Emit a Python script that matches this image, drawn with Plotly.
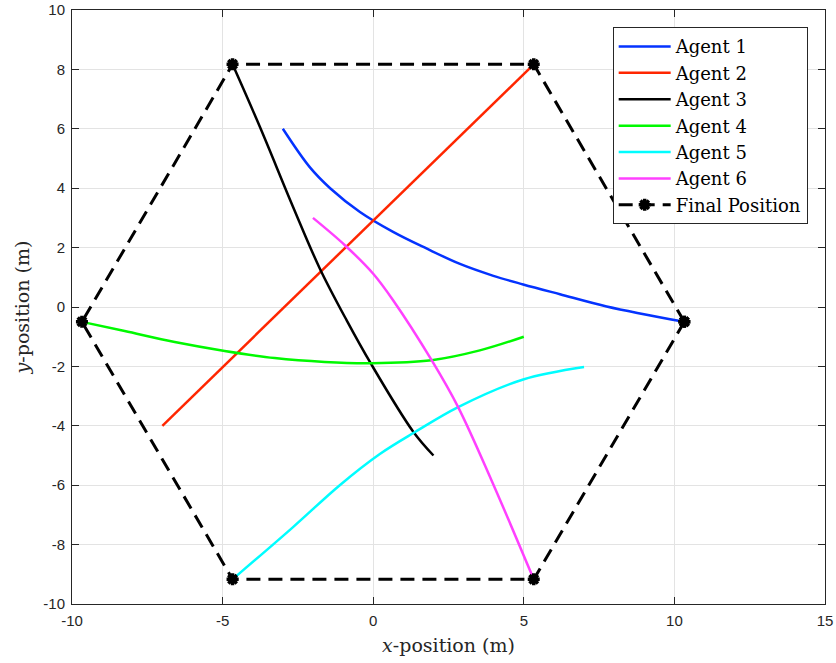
import plotly.graph_objects as go

# Agent trajectories (x, y in metres), start -> final position
agent1_x = [-3.0, -2.1, -1.43, -0.44, 0.66, 1.77, 2.88, 3.99, 4.98, 6.2, 7.75, 10.33]
agent1_y = [6.0, 4.7, 4.0, 3.2, 2.53, 1.97, 1.45, 1.05, 0.76, 0.43, 0.02, -0.5]

agent2_x = [-7.0, 5.33]
agent2_y = [-4.0, 8.17]

agent3_x = [2.0, 1.33, -0.08, -0.88, -1.77, -2.66, -3.76, -4.67]
agent3_y = [-5.0, -4.2, -1.9, -0.45, 1.29, 3.37, 6.06, 8.17]

agent4_x = [5.0, 3.54, 1.94, -0.05, -1.61, -3.27, -4.93, -6.59, -8.25, -9.67]
agent4_y = [-1.0, -1.46, -1.79, -1.89, -1.85, -1.72, -1.48, -1.18, -0.81, -0.5]

agent5_x = [7.0, 4.98, 2.82, 1.39, 0.22, -1.11, -2.66, -4.67]
agent5_y = [-2.02, -2.44, -3.37, -4.21, -4.95, -6.0, -7.41, -9.17]

agent6_x = [-2.0, -0.94, 0.0, 0.66, 1.94, 2.82, 3.93, 5.33]
agent6_y = [3.0, 2.08, 1.12, 0.23, -1.79, -3.37, -5.84, -9.17]

# Final formation (closed hexagon)
final_x = [10.33, 5.33, -4.67, -9.67, -4.67, 5.33, 10.33]
final_y = [-0.5, 8.17, 8.17, -0.5, -9.17, -9.17, -0.5]

agent_names = ["Agent 1", "Agent 2", "Agent 3", "Agent 4", "Agent 5", "Agent 6"]
agent_colors = ["#0433ff", "#ff2600", "#000000", "#00f900", "#00fdff", "#ff40ff"]

x_ticks = [-10, -5, 0, 5, 10, 15]
x_tick_text = ["-10", "-5", "0", "5", "10", "15"]
y_ticks = [-10, -8, -6, -4, -2, 0, 2, 4, 6, 8, 10]
y_tick_text = ["-10", "-8", "-6", "-4", "-2", "0", "2", "4", "6", "8", "10"]

trajectories = [
    (agent1_x, agent1_y),
    (agent2_x, agent2_y),
    (agent3_x, agent3_y),
    (agent4_x, agent4_y),
    (agent5_x, agent5_y),
    (agent6_x, agent6_y),
]

fig = go.Figure()
for (xs, ys), name, color in zip(trajectories, agent_names, agent_colors):
    fig.add_trace(go.Scatter(
        x=xs, y=ys, mode="lines", name=name,
        line=dict(color=color, width=2.5, shape="spline", smoothing=1.0),
    ))

fig.add_trace(go.Scatter(
    x=final_x, y=final_y, mode="lines+markers", name="Final Position",
    line=dict(color="black", width=3, dash="14px,8px"),
    marker=dict(symbol="asterisk-open", size=10, color="black",
                line=dict(color="black", width=3.5)),
))

axis_common = dict(
    showgrid=True, gridcolor="#e3e3e3", gridwidth=1,
    zeroline=False, showline=True, linecolor="#262626", linewidth=1,
    mirror="ticks", ticks="inside", ticklen=7, tickcolor="#262626",
    automargin=False, ticklabelstandoff=3,
    tickfont=dict(family="Liberation Sans, Arial, sans-serif", size=15, color="#262626"),
)

fig.update_xaxes(
    range=[-10, 15], tickvals=x_ticks, ticktext=x_tick_text,
    title=dict(text="<i>x</i>-position (m)", standoff=10,
               font=dict(family="DejaVu Serif, serif", size=19, color="#262626")),
    **axis_common,
)
fig.update_yaxes(
    range=[-10, 10], tickvals=y_ticks, ticktext=y_tick_text,
    title=dict(text="<i>y</i>-position (m)", standoff=8,
               font=dict(family="DejaVu Serif, serif", size=19, color="#262626")),
    **axis_common,
)

fig.update_layout(
    width=836, height=663,
    margin=dict(l=72, r=11, t=10, b=59, autoexpand=False),
    paper_bgcolor="white", plot_bgcolor="white",
    showlegend=True,
    legend=dict(
        x=0.977, xanchor="right", y=0.971, yanchor="top",
        bgcolor="white", bordercolor="#262626", borderwidth=1,
        font=dict(family="DejaVu Serif, serif", size=18, color="black"),
        tracegroupgap=0, itemwidth=52,
    ),
)

fig.write_html("out.html")
